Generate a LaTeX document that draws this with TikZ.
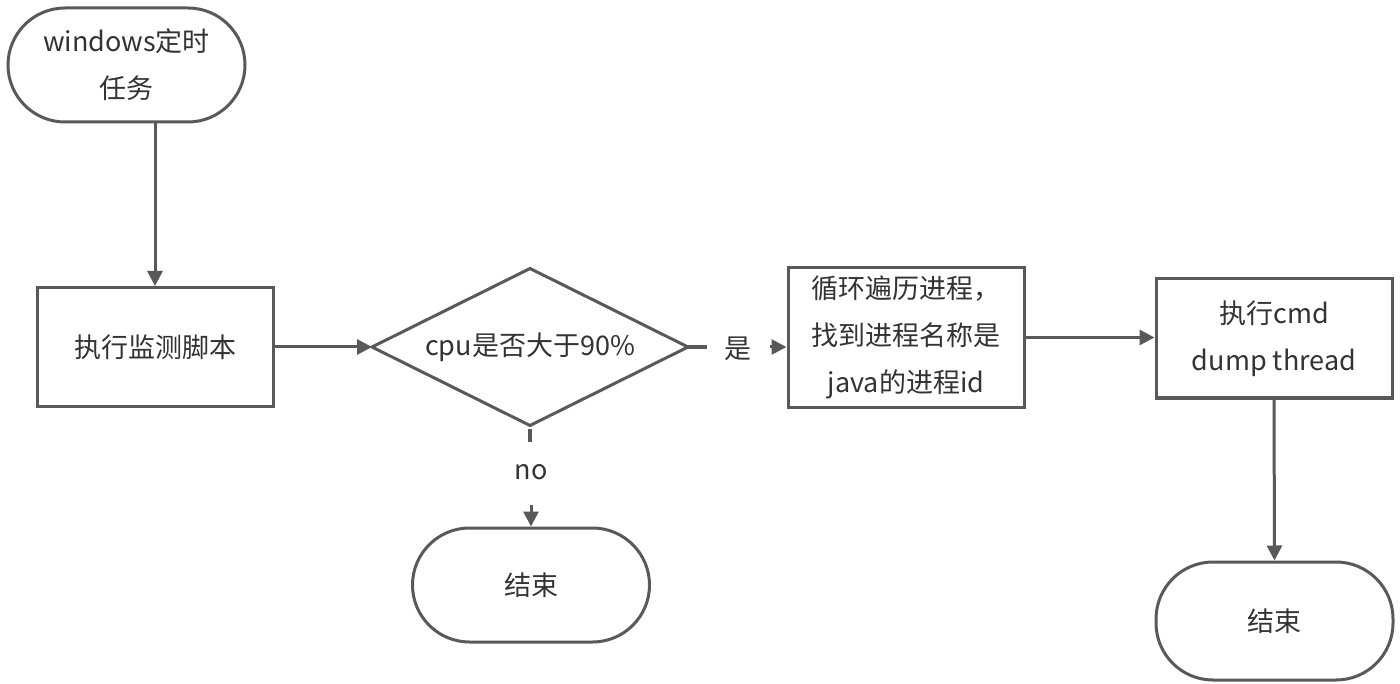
\documentclass[tikz,border=0pt]{standalone}
\usepackage{fontspec}
\setmainfont{Noto Sans CJK SC}
\usetikzlibrary{shapes.geometric,arrows.meta}
\definecolor{ln}{HTML}{595959}
\definecolor{tx}{HTML}{333333}
\begin{document}
\begin{tikzpicture}[x=1pt,y=-1pt,
  every node/.style={font=\fontsize{27}{47}\selectfont, text=tx},
  term/.style={draw=ln, line width=3pt, rounded corners=57pt, minimum width=237pt, minimum height=114pt, inner sep=0pt, align=center},
  proc/.style={draw=ln, line width=3pt, minimum width=236pt, inner sep=0pt, align=center},
  dec/.style={draw=ln, line width=3pt, diamond, minimum width=316pt, minimum height=157pt, inner sep=0pt, aspect=2, outer sep=0pt},
  conn/.style={draw=ln, line width=3pt, -{Triangle[length=15pt,width=15pt]}},
  plain/.style={draw=ln, line width=3.2pt}]
\useasboundingbox (0,0) rectangle (1400,684);
\node[term] (start) at (126.5,65) {windows定时\\任务};
\node[proc, minimum height=119pt] (mon) at (155,347) {执行监测脚本};
\node[dec] (cpu) at (530,347) {cpu是否大于90\%};
\node[proc, minimum height=139pt] (loop) at (906,337.5) {循环遍历进程，\\找到进程名称是\\java的进程id};
\node[proc, minimum height=119pt] (dump) at (1274,338.5) {执行cmd\\dump thread};
\node[term] (end1) at (531,585) {结束};
\node[term, minimum height=118pt] (end2) at (1274.5,621) {结束};
\node (yes) at (738,349) {是};
\node (no) at (531,472) {no};
\coordinate (s1) at (155,122);
\coordinate (y1) at (707,347);
\coordinate (y2) at (770,347);
\coordinate (n1) at (530,442);
\coordinate (n2) at (531,505);
\draw[conn] (s1) -- (mon.north);
\draw[conn] (mon.east) -- (cpu.west);
\draw[plain] ([xshift=-3pt]cpu.east) -- (y1);
\draw[conn] (y2) -- (y2 -| loop.west);
\draw[conn] (loop.east) -- (loop.east -| dump.west);
\draw[conn] (dump.south) -- (end2.north);
\draw[plain] ([yshift=-3pt]cpu.south) -- (n1);
\draw[conn] (n2) -- (end1.north -| n2);
\end{tikzpicture}
\end{document}
